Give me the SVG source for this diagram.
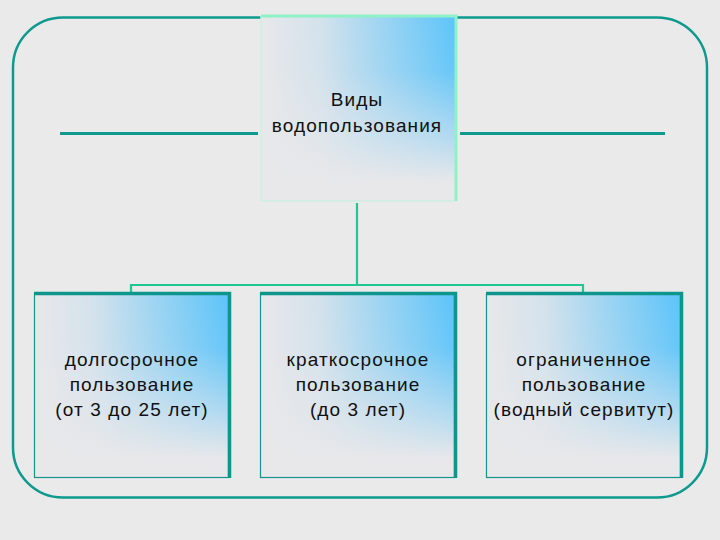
<svg xmlns="http://www.w3.org/2000/svg" width="720" height="540" viewBox="0 0 720 540">
<defs>
<linearGradient id="h" x1="0" y1="0" x2="1" y2="0">
<stop offset="0" stop-color="#E8E8EA"/>
<stop offset="0.3" stop-color="#D4E2EC"/>
<stop offset="1" stop-color="#5CC4FA"/>
</linearGradient>
<linearGradient id="v" x1="0" y1="0" x2="0" y2="1">
<stop offset="0" stop-color="#E8E8EA" stop-opacity="0"/>
<stop offset="0.3" stop-color="#E8E8EA" stop-opacity="0.08"/>
<stop offset="0.65" stop-color="#E8E8EA" stop-opacity="0.6"/>
<stop offset="0.9" stop-color="#E8E8EA" stop-opacity="1"/>
</linearGradient>
<style>
.t{font-family:"Liberation Sans",Arial,sans-serif;font-size:19px;letter-spacing:1.1px;fill:#111;text-anchor:middle}
.conn{stroke:#1FC793;stroke-width:2.2;fill:none}
.bh{fill:url(#h)}
.bv{fill:url(#v);stroke:#16928C;stroke-width:1.2}
.edge{stroke:#0E958C;stroke-width:3.5;fill:none}
</style>
</defs>
<rect width="720" height="540" fill="#EAEAEA"/>
<rect x="13" y="17.5" width="694" height="480" rx="50" ry="50" fill="none" stroke="#0E9A8E" stroke-width="2.5"/>
<g id="lines">
<line x1="60" y1="133.5" x2="258" y2="133.5" stroke="#0E9A8E" stroke-width="3"/>
<line x1="460" y1="133.5" x2="665" y2="133.5" stroke="#0E9A8E" stroke-width="3"/>
</g>
<g id="connectors">
<path class="conn" d="M357 203 V285 M131 292 V285 H583 V292"/>
</g>
<g id="root">
<rect class="bh" x="261" y="16" width="195" height="185"/>
<rect x="261" y="16" width="195" height="185" fill="url(#v)" stroke="#CDEFE2" stroke-width="1.5"/>
<path d="M261 16 H456 V201" fill="none" stroke="#8EF2C6" stroke-width="3"/>
<text class="t" x="357" y="106">Виды</text>
<text class="t" x="357" y="132">водопользования</text>
</g>
<g id="n1">
<rect class="bh" x="34.5" y="293.5" width="194" height="184"/>
<rect class="bv" x="34.5" y="293.5" width="194" height="184"/>
<path class="edge" d="M34 293.5 H229.5 V478"/>
<text class="t" x="132" y="366">долгосрочное</text>
<text class="t" x="132" y="391">пользование</text>
<text class="t" x="132" y="416">(от 3 до 25 лет)</text>
</g>
<g id="n2">
<rect class="bh" x="260.5" y="293.5" width="194" height="184"/>
<rect class="bv" x="260.5" y="293.5" width="194" height="184"/>
<path class="edge" d="M260 293.5 H455.5 V478"/>
<text class="t" x="358" y="366">краткосрочное</text>
<text class="t" x="358" y="391">пользование</text>
<text class="t" x="358" y="416">(до 3 лет)</text>
</g>
<g id="n3">
<rect class="bh" x="486.5" y="293.5" width="194" height="184"/>
<rect class="bv" x="486.5" y="293.5" width="194" height="184"/>
<path class="edge" d="M486 293.5 H681.5 V478"/>
<text class="t" x="584" y="366">ограниченное</text>
<text class="t" x="584" y="391">пользование</text>
<text class="t" x="584" y="416">(водный сервитут)</text>
</g>
</svg>
